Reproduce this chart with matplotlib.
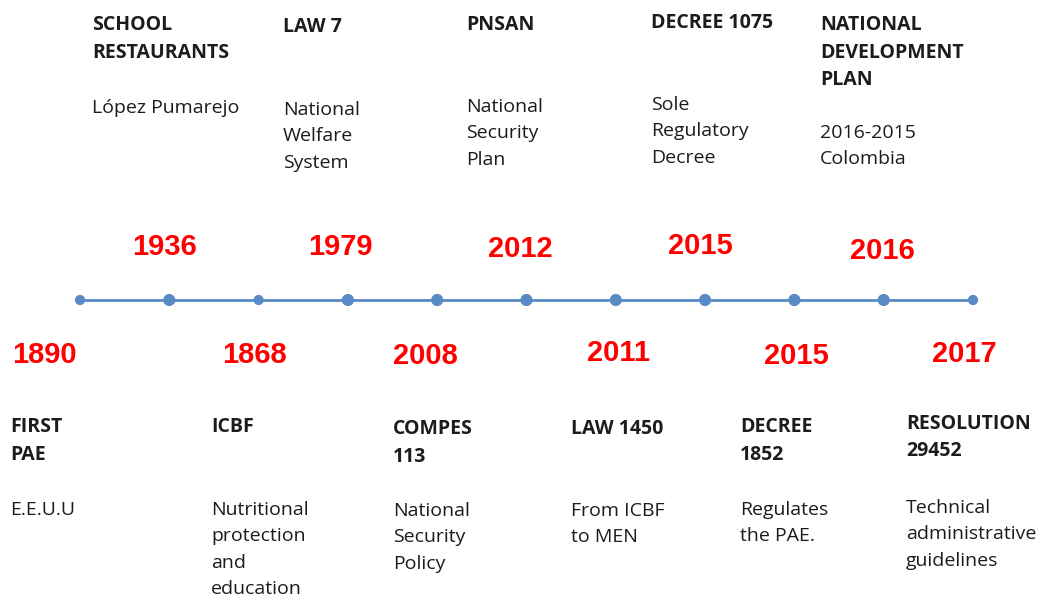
import matplotlib
matplotlib.use("Agg")
from matplotlib import pyplot as plt
from matplotlib import font_manager

# timeline points, left to right
n_points = 11
top_years = ["1936", "1979", "2012", "2015", "2016"]          # odd points
bottom_years = ["1890", "1868", "2008", "2011", "2015", "2017"]  # even points

top_titles = ["SCHOOL\nRESTAURANTS", "LAW 7", "PNSAN", "DECREE 1075",
              "NATIONAL\nDEVELOPMENT\nPLAN"]
top_notes = ["López Pumarejo", "National\nWelfare\nSystem", "National\nSecurity\nPlan",
             "Sole\nRegulatory\nDecree", "2016-2015\nColombia"]

bottom_titles = ["FIRST\nPAE", "ICBF", "COMPES\n113", "LAW 1450", "DECREE\n1852",
                 "RESOLUTION\n29452"]
bottom_notes = ["E.E.U.U", "Nutritional\nprotection\nand\neducation",
                "National\nSecurity\nPolicy", "From ICBF\nto MEN", "Regulates\nthe PAE.",
                "Technical\nadministrative\nguidelines"]

# layout (pixels)
W, H = 1045, 601
x0, step = 80, 89.3
top_year_x = [132, 308, 488, 668, 850]
top_year_y = [247, 247, 249, 246, 251]
bottom_year_x = [12, 222, 393, 587, 764, 932]
bottom_year_y = [355, 355, 356, 353, 356, 354]
top_text_x = [92, 283, 466, 651, 820]
top_title_y = [15, 17, 15, 13, 15]
top_note_y = [99, 101, 98, 96, 124]
bottom_text_x = [10, 211, 393, 571, 740, 906]
bottom_title_y = [417, 417, 419, 419, 417, 414]
bottom_note_y = [501, 501, 502, 502, 501, 499]

red = "#ff0000"
blue = "#5a8ac6"
ink = "#1c1c1c"
body_font = ["Open Sans", "DejaVu Sans"]

# narrow bold face for the years if one is around
names = {f.name for f in font_manager.fontManager.ttflist}
if "Liberation Sans Narrow" in names:
    year_font, year_size = ["Liberation Sans Narrow"], 23
else:
    year_font, year_size = ["Liberation Sans", "DejaVu Sans"], 21

fig = plt.figure(figsize=(W / 100, H / 100), dpi=100)

# timeline in index units
ax = fig.add_axes([0, 0, 1, 1])
ax.set_xlim(-x0 / step, (W - x0) / step)
ax.set_ylim(H, 0)
ax.axis("off")
idx = list(range(n_points))
ax.plot(idx, [300] * n_points, color=blue, lw=2, zorder=1)
sizes = [40 if i in (0, 2, n_points - 1) else 60 for i in idx]
ax.scatter(idx, [300] * n_points, s=sizes, color=blue, zorder=2)

# text in pixel units
tx = fig.add_axes([0, 0, 1, 1])
tx.set_xlim(0, W)
tx.set_ylim(H, 0)
tx.axis("off")

for i, yr in enumerate(top_years):
    tx.text(top_year_x[i], top_year_y[i], yr, color=red, fontsize=year_size, fontweight="bold",
            family=year_font, ha="left", va="center")
    tx.text(top_text_x[i], top_title_y[i], top_titles[i], color=ink, fontsize=14,
            fontweight="bold", family=body_font, ha="left", va="top", linespacing=1.5)
    tx.text(top_text_x[i], top_note_y[i], top_notes[i], color=ink, fontsize=14,
            family=body_font, ha="left", va="top", linespacing=1.6)

for i, yr in enumerate(bottom_years):
    tx.text(bottom_year_x[i], bottom_year_y[i], yr, color=red, fontsize=year_size, fontweight="bold",
            family=year_font, ha="left", va="center")
    tx.text(bottom_text_x[i], bottom_title_y[i], bottom_titles[i], color=ink, fontsize=14,
            fontweight="bold", family=body_font, ha="left", va="top", linespacing=1.5)
    tx.text(bottom_text_x[i], bottom_note_y[i], bottom_notes[i], color=ink, fontsize=14,
            family=body_font, ha="left", va="top", linespacing=1.6)

fig.savefig("out.png", dpi=100, facecolor="white")
